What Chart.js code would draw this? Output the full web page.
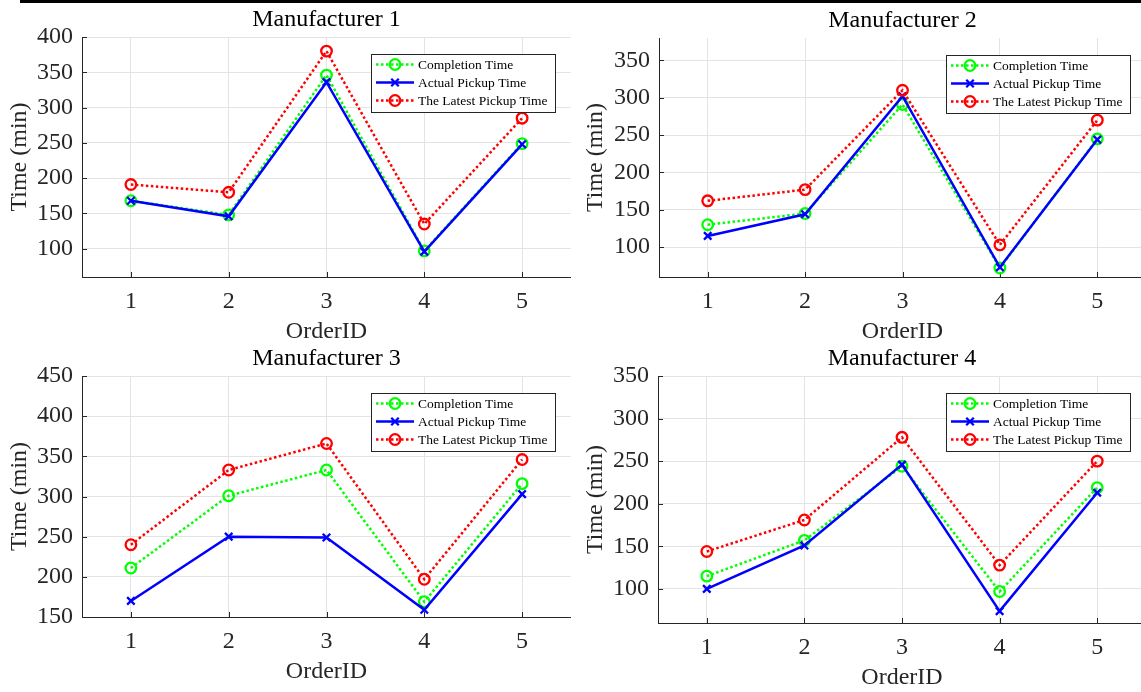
<!DOCTYPE html>
<html><head><meta charset="utf-8">
<script src="https://cdn.jsdelivr.net/npm/chart.js@4.4.1/dist/chart.umd.min.js"></script>
<style>
html,body{margin:0;padding:0;background:#fff;width:1141px;height:692px;overflow:hidden;position:relative}
canvas{position:absolute}
#bar{position:absolute;left:20px;top:0;width:1121px;height:3px;background:#000}
</style></head><body>
<div id="bar"></div>
<canvas id="c1"></canvas><canvas id="c2"></canvas><canvas id="c3"></canvas><canvas id="c4"></canvas>
<script>
// ---- data ----
const orderIds = ['1','2','3','4','5'];
const seriesNames = ['Completion Time','Actual Pickup Time','The Latest Pickup Time'];
const panelTitles = ['Manufacturer 1','Manufacturer 2','Manufacturer 3','Manufacturer 4'];
const xAxisTitle = 'OrderID';
const yAxisTitle = 'Time (min)';

const completion1 = [168,148,346,97,249];
const actual1     = [168,146,336,96,248];
const latest1     = [191,180,380,135,285];

const completion2 = [130,145,291,72,245];
const actual2     = [115,144,302,73,244];
const latest2     = [162,177,310,103,270];

const completion3 = [211,301,333,169,316];
const actual3     = [170,250,249,159,303];
const latest3     = [240,333,366,197,346];

const completion4 = [115,157,244,97,219];
const actual4     = [100,151,246,74,213];
const latest4     = [144,181,278,128,250];

const yTicks1 = [100,150,200,250,300,350,400];
const yTicks2 = [100,150,200,250,300,350];
const yTicks3 = [150,200,250,300,350,400,450];
const yTicks4 = [100,150,200,250,300,350];
const yRange1 = [60,400];
const yRange2 = [60,380];
const yRange3 = [150,450];
const yRange4 = [60,350];

// ---- layout / style ----
const SERIF = '"Liberation Serif", "Times New Roman", serif';
const boxes = [
  {x:0,   y:0,   w:571, h:347, yw:82, xh:70},
  {x:576, y:1,   w:570, h:346, yw:83, xh:70},
  {x:0,   y:339, w:571, h:348, yw:82, xh:70},
  {x:576, y:339, w:570, h:354, yw:82, xh:70}
];

const tickPlugin = {
  id:'inwardTicks',
  beforeDatasetsDraw(chart){
    const ctx = chart.ctx, a = chart.chartArea;
    ctx.save();
    ctx.strokeStyle = '#262626'; ctx.lineWidth = 1;
    ctx.beginPath();
    const ys = chart.scales.y;
    ys.ticks.forEach(t => { const py = Math.round(ys.getPixelForValue(t.value)) + 0.5; ctx.moveTo(a.left, py); ctx.lineTo(a.left + 5, py); });
    const xs = chart.scales.x;
    xs.ticks.forEach((t,i) => { const px = Math.round(xs.getPixelForTick(i)) + 0.5; ctx.moveTo(px, a.bottom); ctx.lineTo(px, a.bottom - 5); });
    ctx.stroke();
    ctx.restore();
  }
};

function drawMarker(ctx, style, x, y, r){
  ctx.beginPath();
  if (style === 'circle') {
    ctx.arc(x, y, r, 0, Math.PI*2);
  } else {
    const d = r * Math.SQRT1_2;
    ctx.moveTo(x-d, y-d); ctx.lineTo(x+d, y+d);
    ctx.moveTo(x-d, y+d); ctx.lineTo(x+d, y-d);
  }
  ctx.stroke();
}

const legendPlugin = {
  id:'boxLegend',
  afterDatasetsDraw(chart){
    const ctx = chart.ctx, a = chart.chartArea;
    const ds = chart.data.datasets;
    ctx.save();
    ctx.font = '13.5px ' + SERIF;
    const tw = Math.max(...ds.map(d => ctx.measureText(d.label).width));
    const w = Math.round(47 + tw + 7), h = 58;
    const x0 = Math.round(a.right - 16 - w), y0 = Math.round(a.top + 17);
    ctx.fillStyle = '#fff'; ctx.fillRect(x0, y0, w, h);
    ctx.strokeStyle = '#262626'; ctx.lineWidth = 1; ctx.strokeRect(x0 + 0.5, y0 + 0.5, w, h);
    ds.forEach((d, i) => {
      const cy = y0 + 10.5 + i * 18;
      ctx.strokeStyle = d.borderColor; ctx.lineWidth = d.borderWidth;
      ctx.setLineDash(d.borderDash || []);
      ctx.beginPath(); ctx.moveTo(x0 + 5, cy); ctx.lineTo(x0 + 43, cy); ctx.stroke();
      ctx.setLineDash([]);
      ctx.lineWidth = d.pointBorderWidth;
      drawMarker(ctx, d.pointStyle, x0 + 24, cy, d.pointRadius);
      ctx.fillStyle = '#000'; ctx.textBaseline = 'middle'; ctx.textAlign = 'left';
      ctx.fillText(d.label, x0 + 47, cy + 0.5);
    });
    ctx.restore();
  }
};

function makePanel(id, title, comp, act, lat, yRange, yTicks, box){
  const cv = document.getElementById(id);
  cv.width = box.w; cv.height = box.h;
  cv.style.left = box.x + 'px'; cv.style.top = box.y + 'px';
  const tickFont = {family: SERIF, size: 24, weight: 'normal', lineHeight: 1.2};
  new Chart(cv, {
    type: 'line',
    data: {
      labels: orderIds,
      datasets: [
        {label: seriesNames[0], data: comp, borderColor: '#00ff00', borderWidth: 2.5, borderDash: [2.5, 2.5],
         pointStyle: 'circle', pointRadius: 5.3, pointBorderWidth: 2.3, pointBorderColor: '#00ff00',
         pointBackgroundColor: 'rgba(0,0,0,0)', tension: 0, order: 2},
        {label: seriesNames[1], data: act, borderColor: '#0000ff', borderWidth: 2.5,
         pointStyle: 'crossRot', pointRadius: 5.3, pointBorderWidth: 2.3, pointBorderColor: '#0000ff',
         pointBackgroundColor: '#0000ff', tension: 0, order: 1},
        {label: seriesNames[2], data: lat, borderColor: '#ff0000', borderWidth: 2.5, borderDash: [2.5, 2.5],
         pointStyle: 'circle', pointRadius: 5.3, pointBorderWidth: 2.3, pointBorderColor: '#ff0000',
         pointBackgroundColor: 'rgba(0,0,0,0)', tension: 0, order: 0}
      ]
    },
    options: {
      responsive: false, animation: false, devicePixelRatio: 1,
      layout: {padding: 0, autoPadding: false},
      plugins: {
        legend: {display: false},
        tooltip: {enabled: false},
        title: {display: true, text: title, fullSize: false, color: '#000',
                font: {family: SERIF, size: 24, weight: 'normal', lineHeight: 1.2},
                padding: {top: 5.6, bottom: 2.6}}
      },
      scales: {
        x: {
          type: 'category', offset: true,
          grid: {color: '#e3e3e3', lineWidth: 1, drawTicks: false},
          border: {color: '#262626', width: 1},
          ticks: {color: '#262626', font: tickFont, padding: 10, maxRotation: 0},
          title: {display: true, text: xAxisTitle, color: '#262626', font: tickFont, padding: {top: 0, bottom: 1}},
          afterFit(s){ s.height = box.xh; }
        },
        y: {
          min: yRange[0], max: yRange[1],
          afterBuildTicks(s){ s.ticks = yTicks.map(v => ({value: v})); },
          grid: {color: '#e3e3e3', lineWidth: 1, drawTicks: false},
          border: {color: '#262626', width: 1},
          ticks: {color: '#262626', font: tickFont, padding: 9},
          title: {display: true, text: yAxisTitle, color: '#262626', font: tickFont, padding: {top: 5, bottom: 0}},
          afterFit(s){ s.width = box.yw; }
        }
      }
    },
    plugins: [tickPlugin, legendPlugin]
  });
}

makePanel('c1', panelTitles[0], completion1, actual1, latest1, yRange1, yTicks1, boxes[0]);
makePanel('c2', panelTitles[1], completion2, actual2, latest2, yRange2, yTicks2, boxes[1]);
makePanel('c3', panelTitles[2], completion3, actual3, latest3, yRange3, yTicks3, boxes[2]);
makePanel('c4', panelTitles[3], completion4, actual4, latest4, yRange4, yTicks4, boxes[3]);
</script>
</body></html>
